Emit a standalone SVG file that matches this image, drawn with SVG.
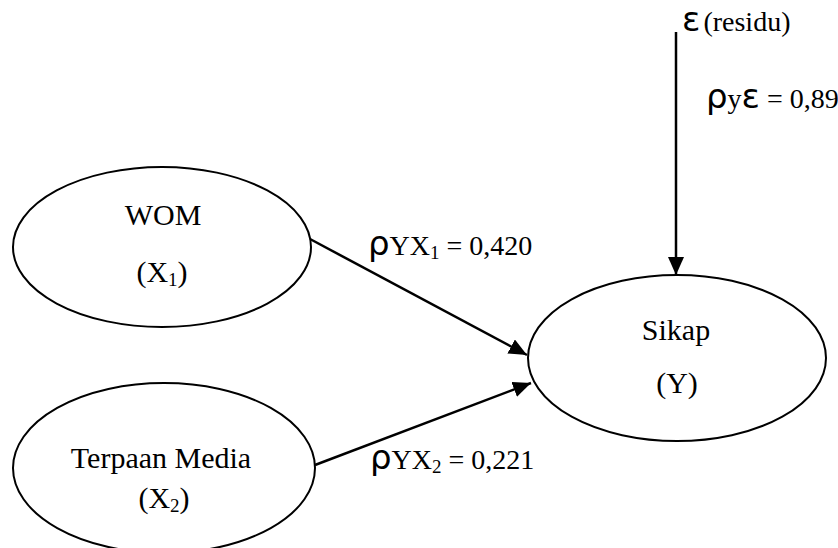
<svg xmlns="http://www.w3.org/2000/svg" width="838" height="548" viewBox="0 0 838 548">
<style>
.n{fill:#fff;stroke:#000;stroke-width:2}
.t{font-family:"Liberation Serif","Times New Roman",serif;font-size:30px;fill:#000}
.l{font-family:"Liberation Serif","Times New Roman",serif;font-size:28px;fill:#000}
.g{font-family:"DejaVu Sans",sans-serif;font-size:34px}
.s{font-size:19px}
.c{stroke:#000;stroke-width:2.5;fill:none}
</style>
<defs>
<marker id="ah" markerUnits="userSpaceOnUse" markerWidth="20" markerHeight="18" refX="18" refY="8" orient="auto">
<path d="M0,0 L18,8 L0,16 z" fill="#000"/>
</marker>
</defs>
<rect width="838" height="548" fill="#fff"/>
<g id="wom">
<ellipse class="n" cx="162" cy="247" rx="149" ry="80"/>
<text class="t" x="163" y="225" text-anchor="middle">WOM</text>
<text class="t" x="162" y="282" text-anchor="middle">(X<tspan class="s" dy="4">1</tspan><tspan dy="-4">)</tspan></text>
</g>
<g id="media">
<ellipse class="n" cx="164" cy="468" rx="151" ry="85"/>
<text class="t" x="161" y="468" text-anchor="middle">Terpaan Media</text>
<text class="t" x="164" y="508" text-anchor="middle">(X<tspan class="s" dy="4">2</tspan><tspan dy="-4">)</tspan></text>
</g>
<g id="sikap">
<ellipse class="n" cx="677" cy="358" rx="149" ry="83"/>
<text class="t" x="676" y="340" text-anchor="middle">Sikap</text>
<text class="t" x="677" y="393" text-anchor="middle">(Y)</text>
</g>
<g id="connectors">
<line class="c" x1="676" y1="32" x2="676" y2="275" marker-end="url(#ah)"/>
<line class="c" x1="310" y1="239" x2="527" y2="355" marker-end="url(#ah)"/>
<line class="c" x1="315" y1="465" x2="531" y2="383" marker-end="url(#ah)"/>
</g>
<g id="labels">
<text class="l" x="682" y="31"><tspan class="g" font-size="36">ε</tspan><tspan dx="3">(residu)</tspan></text>
<text class="l" x="706" y="108"><tspan class="g">ρ</tspan>y<tspan class="g">ε</tspan> = 0,89</text>
<text class="l" x="368" y="255"><tspan class="g">ρ</tspan>YX<tspan class="s" dy="4">1</tspan><tspan dy="-4"> = 0,420</tspan></text>
<text class="l" x="370" y="469"><tspan class="g">ρ</tspan>YX<tspan class="s" dy="4">2</tspan><tspan dy="-4"> = 0,221</tspan></text>
</g>
</svg>
